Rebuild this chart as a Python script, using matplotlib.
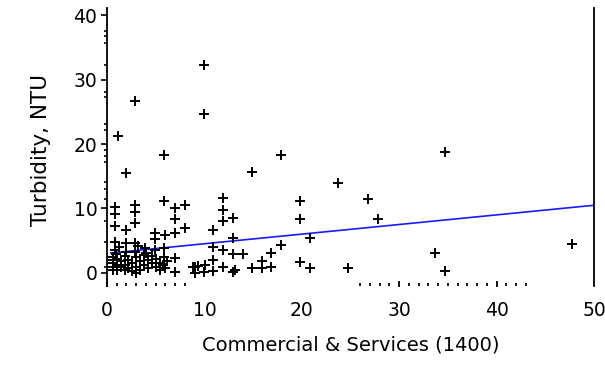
import matplotlib
matplotlib.use("Agg")
import matplotlib.pyplot as plt

plt.rcParams['font.family'] = ['DejaVu Sans']

# Data: Commercial & Services (x) vs Turbidity NTU (y)
x_vals = [1.1, 2.9, 10.0, 10.0, 2.0, 5.9, 17.9, 14.9, 23.7, 34.7, 33.7, 34.7, 47.7,
          19.8, 19.8, 26.8, 27.8, 20.8, 17.9, 16.8, 15.9, 14.9, 15.9, 16.8, 19.8, 20.8, 24.7,
          11.9, 11.9, 11.9, 12.9, 10.9, 12.9, 10.9, 11.9, 12.9, 14.0, 10.9, 11.9, 12.9, 13.1,
          10.9, 10.1, 9.0, 9.0, 10.0, 9.3, 8.8,
          0.8, 0.8, 2.9, 2.9, 2.9, 0.8, 1.95, 5.9, 7.0, 8.0, 7.0, 8.0, 7.0, 6.0, 4.9, 4.9,
          0.8, 1.95, 2.9, 3.9, 0.8, 2.9, 4.9, 5.9, 7.0, 7.0, 6.0, 5.9,
          0.6, 0.6, 0.6, 0.6, 0.6, 1.0, 1.0, 1.0, 1.4, 1.4, 1.8, 1.8, 1.8, 2.2, 2.2, 2.6, 2.6,
          3.0, 3.0, 3.4, 3.4, 3.8, 3.8, 4.2, 4.2, 4.6, 4.6, 5.0, 5.0, 5.4, 5.4, 5.8, 6.2,
          0.9, 2.0, 4.0, 1.2, 3.2, 3.0]
y_vals = [21.2, 26.6, 32.2, 24.7, 15.5, 18.3, 18.3, 15.6, 14.0, 18.8, 3.1, 0.3, 4.5,
          11.1, 8.4, 11.4, 8.4, 5.5, 4.4, 3.1, 1.9, 0.8, 0.8, 1.0, 1.7, 0.8, 0.8,
          11.6, 9.7, 8.0, 8.6, 6.6, 5.5, 4.1, 3.6, 3.0, 3.0, 2.0, 0.9, 0.2, 0.4,
          0.3, 1.2, 1.0, 0.0, 0.2, 1.1, 0.9,
          10.3, 9.2, 10.6, 9.4, 7.8, 7.3, 6.6, 11.1, 10.0, 10.6, 8.3, 6.9, 6.25, 5.9, 6.25, 5.2,
          4.8, 4.7, 4.7, 3.9, 3.6, 3.3, 3.6, 3.8, 2.3, 0.1, 0.8, 2.5,
          2.5, 2.0, 1.5, 1.0, 0.5, 2.2, 1.2, 0.4, 1.8, 0.9, 2.6, 1.3, 0.5, 2.0, 0.8, 1.5, 0.3,
          2.4, 1.0, 1.8, 0.5, 2.8, 1.3, 2.0, 0.7, 1.5, 2.6, 1.0, 2.2, 1.6, 0.4, 1.2, 1.8,
          3.0, 3.2, 3.1, 4.1, 4.2, 0.0]

# Regression line end points
fit_x = [0.4, 50.0]
fit_y = [3.1, 10.5]

x_tick_vals = [0, 10, 20, 30, 40, 50]
y_tick_vals = [0, 10, 20, 30, 40]
x_label = "Commercial & Services (1400)"
y_label = "Turbidity, NTU"

W, H = 605, 368
fig = plt.figure(figsize=(W / 100, H / 100), dpi=100)
ax = fig.add_axes([107 / W, 1 - 286 / H, (594 - 107) / W, 278 / H])
ax.set_xlim(0, 50)
ax.set_ylim(-2.02, 41.09)

ax.plot(x_vals, y_vals, linestyle='none', marker='+', color='black',
        markersize=7.5, markeredgewidth=1.4, clip_on=False, zorder=3)
ax.plot(fit_x, fit_y, color='#1a1aff', linewidth=1.2, zorder=2)

for s in ['top', 'bottom']:
    ax.spines[s].set_visible(False)
ax.spines['left'].set_linewidth(1.3)
ax.spines['right'].set_linewidth(1.3)

# y ticks
ax.set_yticks(y_tick_vals)
ax.set_yticklabels([str(v) for v in y_tick_vals], fontsize=13.5)
ax.tick_params(axis='y', direction='out', length=4, width=1.2, pad=3, right=False)
y_minor = [37.5, 36.7, 35.6, 32.2, 28.1, 27.3, 23.1, 22.2, 19.1, 18.1, 17.2,
           14.1, 13.0, 11.4, 8.0, 4.8, 0.9]
ax.set_yticks(y_minor, minor=True)
ax.tick_params(axis='y', which='minor', direction='out', length=2.5, width=1.2, right=False)

# x ticks: labels only; tick marks drawn as small dashes near the bottom
ax.set_xticks(x_tick_vals)
ax.set_xticklabels([str(v) for v in x_tick_vals], fontsize=13.5)
ax.tick_params(axis='x', length=0, pad=11)
xt = ax.get_xaxis_transform()
minor_x = [1, 2, 3, 4, 5, 6, 7, 8, 26, 27, 28, 29, 31, 32, 33, 34, 35, 36, 37, 38, 39, 41, 42, 43]
major_x = [0, 30, 40]
ax.vlines(minor_x, 0.0, 0.01, transform=xt, color='black', linewidth=1.3, clip_on=False)
ax.vlines(major_x, -0.005, 0.018, transform=xt, color='black', linewidth=1.3, clip_on=False)

ax.set_xlabel(x_label, fontsize=14, labelpad=11)
ax.set_ylabel(y_label, fontsize=15.5)
ax.yaxis.set_label_coords(-0.115, 0.49)

fig.savefig("out.png", dpi=100)
